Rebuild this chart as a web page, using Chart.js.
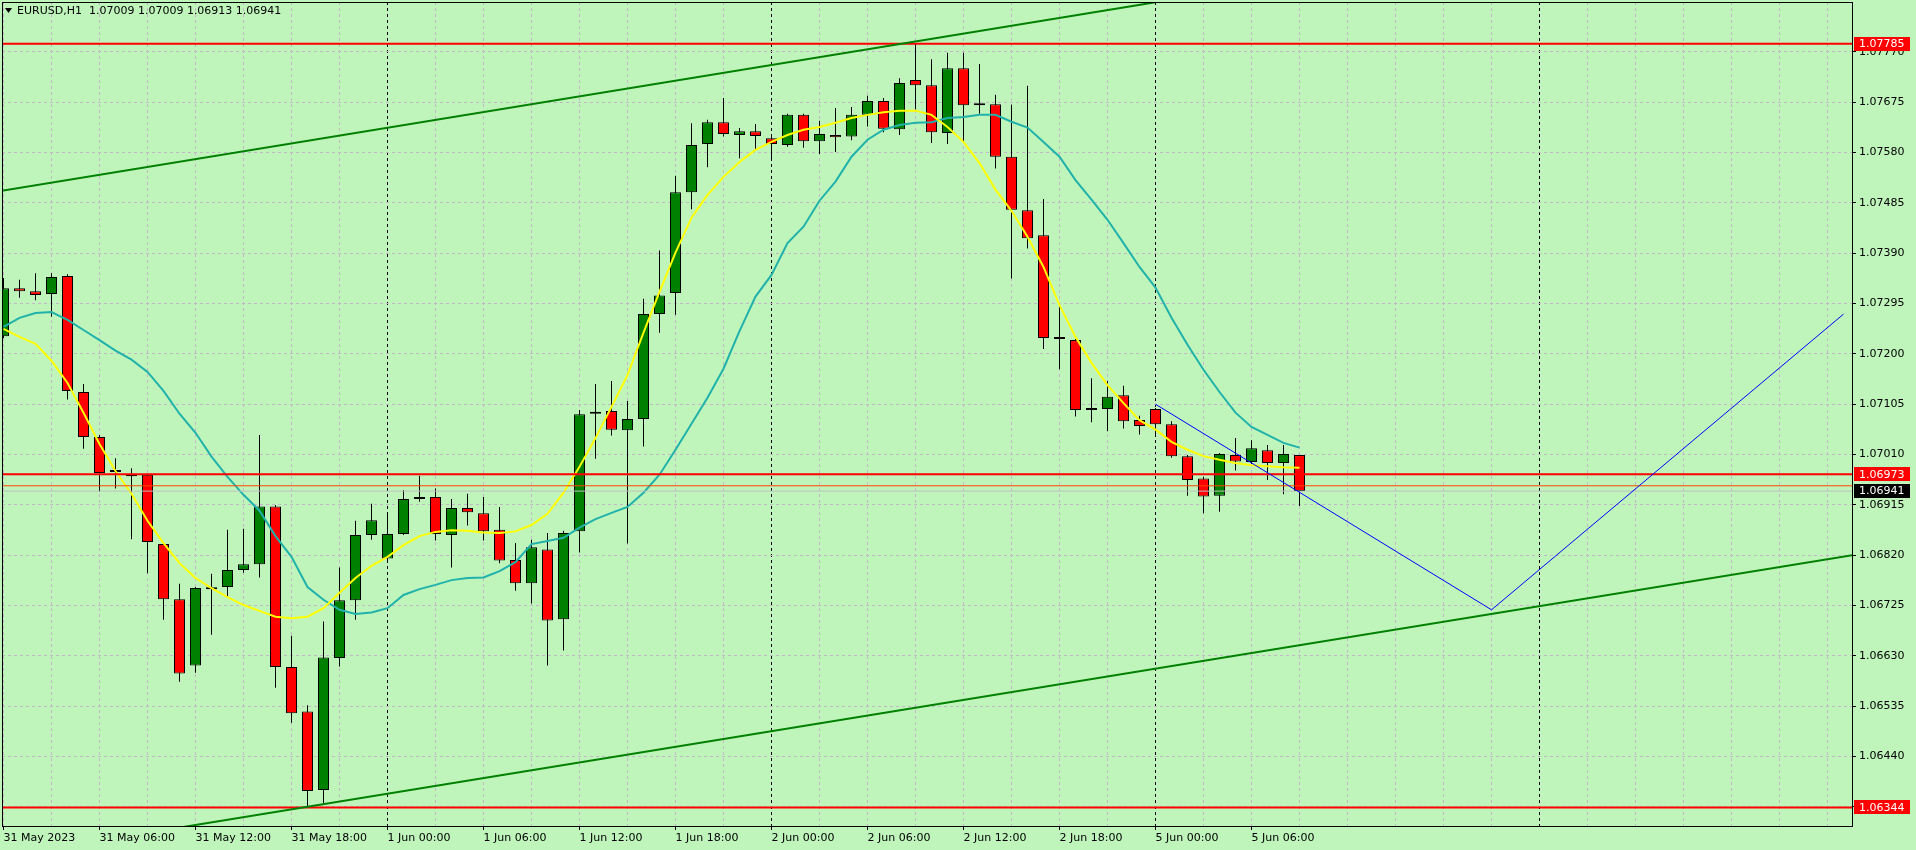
<!DOCTYPE html>
<html><head><meta charset="utf-8">
<script src="https://cdn.jsdelivr.net/npm/chart.js@4.4.0/dist/chart.umd.min.js"></script>
<style>html,body{margin:0;padding:0;background:#bff5bb;overflow:hidden}canvas{display:block}</style>
</head><body><canvas id="c" width="1916" height="850"></canvas>
<script>
const symbolTitle = 'EURUSD,H1  1.07009 1.07009 1.06913 1.06941';
const timeLabels = ['31 May 2023','31 May 06:00','31 May 12:00','31 May 18:00','1 Jun 00:00','1 Jun 06:00','1 Jun 12:00','1 Jun 18:00','2 Jun 00:00','2 Jun 06:00','2 Jun 12:00','2 Jun 18:00','5 Jun 00:00','5 Jun 06:00'];
const timeLabelIdx = [0,6,12,18,24,30,36,42,48,54,60,66,72,78];
const daySeparators = [24,48,72,96];

const opens = [1.07233,1.07324,1.07318,1.07313,1.07347,1.07128,1.07043,1.06977,1.06972,1.06972,
 1.06841,1.06737,1.06612,1.06756,1.06760,1.06792,1.06803,1.06912,1.06609,1.06525,
 1.06377,1.06626,1.06735,1.06858,1.06814,1.06860,1.06926,1.06930,1.06858,1.06909,
 1.06899,1.06868,1.06811,1.06767,1.06831,1.06699,1.06865,1.07087,1.07092,1.07056,
 1.07077,1.07275,1.07315,1.07505,1.07596,1.07637,1.07613,1.07620,1.07607,1.07594,
 1.07651,1.07601,1.07613,1.07610,1.07651,1.07677,1.07624,1.07717,1.07707,1.07617,
 1.07739,1.07669,1.07671,1.07572,1.07471,1.07424,1.07232,1.07226,1.07097,1.07096,
 1.07122,1.07075,1.07096,1.07067,1.07007,1.06965,1.06932,1.07009,1.06996,1.07018,
 1.06994,1.07009];
const highs = [1.07343,1.07340,1.07352,1.07352,1.07350,1.07143,1.07047,1.07003,1.06984,1.06973,
 1.06842,1.06766,1.06760,1.06785,1.06868,1.06870,1.07047,1.06915,1.06668,1.06537,
 1.06695,1.06797,1.06885,1.06917,1.06901,1.06943,1.06970,1.06946,1.06926,1.06936,
 1.06930,1.06911,1.06843,1.06849,1.06862,1.06866,1.07094,1.07143,1.07149,1.07111,
 1.07304,1.07395,1.07536,1.07635,1.07642,1.07683,1.07626,1.07634,1.07610,1.07653,
 1.07653,1.07640,1.07664,1.07666,1.07687,1.07683,1.07720,1.07785,1.07756,1.07768,
 1.07768,1.07747,1.07689,1.07670,1.07706,1.07492,1.07292,1.07228,1.07154,1.07149,
 1.07140,1.07083,1.07098,1.07073,1.07009,1.06968,1.07013,1.07041,1.07037,1.07028,
 1.07028,1.07009];
const lows = [1.07230,1.07306,1.07301,1.07270,1.07114,1.07021,1.06940,1.06946,1.06850,1.06786,
 1.06698,1.06581,1.06598,1.06670,1.06742,1.06787,1.06778,1.06570,1.06504,1.06344,
 1.06352,1.06610,1.06698,1.06849,1.06811,1.06858,1.06921,1.06848,1.06797,1.06876,
 1.06848,1.06805,1.06753,1.06729,1.06612,1.06640,1.06825,1.07002,1.07046,1.06842,
 1.07025,1.07240,1.07274,1.07473,1.07552,1.07610,1.07569,1.07585,1.07565,1.07591,
 1.07589,1.07577,1.07581,1.07603,1.07629,1.07618,1.07613,1.07661,1.07598,1.07596,
 1.07599,1.07653,1.07550,1.07342,1.07399,1.07209,1.07171,1.07082,1.07071,1.07054,
 1.07059,1.07048,1.07044,1.07004,1.06932,1.06899,1.06902,1.06980,1.06992,1.06962,
 1.06935,1.06913];
const closes = [1.07324,1.07318,1.07311,1.07345,1.07130,1.07043,1.06975,1.06977,1.06969,1.06845,
 1.06737,1.06597,1.06758,1.06756,1.06792,1.06803,1.06912,1.06609,1.06522,1.06375,
 1.06627,1.06735,1.06858,1.06886,1.06860,1.06926,1.06930,1.06860,1.06909,1.06901,
 1.06865,1.06810,1.06767,1.06835,1.06697,1.06862,1.07086,1.07087,1.07057,1.07077,
 1.07275,1.07310,1.07505,1.07594,1.07637,1.07615,1.07620,1.07611,1.07596,1.07651,
 1.07601,1.07615,1.07609,1.07651,1.07677,1.07625,1.07711,1.07707,1.07618,1.07739,
 1.07669,1.07669,1.07572,1.07472,1.07418,1.07230,1.07228,1.07094,1.07094,1.07119,
 1.07073,1.07064,1.07067,1.07007,1.06962,1.06931,1.07011,1.06997,1.07022,1.06994,
 1.07011,1.06941];
const maFast = [1.07247,1.07232,1.07219,1.07187,1.07145,1.07089,1.07030,1.06979,1.06936,1.06885,
 1.06843,1.06805,1.06777,1.06758,1.06741,1.06726,1.06715,1.06704,1.06701,1.06704,
 1.06720,1.06749,1.06777,1.06800,1.06817,1.06839,1.06856,1.06864,1.06867,1.06866,
 1.06863,1.06862,1.06865,1.06877,1.06898,1.06938,1.06987,1.07041,1.07100,1.07160,
 1.07240,1.07317,1.07391,1.07457,1.07500,1.07534,1.07562,1.07585,1.07600,1.07613,
 1.07623,1.07628,1.07636,1.07645,1.07651,1.07656,1.07659,1.07659,1.07651,1.07628,
 1.07600,1.07560,1.07510,1.07470,1.07421,1.07364,1.07292,1.07232,1.07183,1.07141,
 1.07107,1.07075,1.07057,1.07034,1.07019,1.07007,1.07000,1.06994,1.06990,1.06988,
 1.06986,1.06985];
const maSlow = [1.07251,1.07268,1.07277,1.07279,1.07264,1.07245,1.07226,1.07206,1.07189,1.07166,
 1.07130,1.07087,1.07051,1.07006,1.06968,1.06934,1.06904,1.06856,1.06817,1.06760,
 1.06736,1.06717,1.06709,1.06712,1.06720,1.06745,1.06756,1.06764,1.06773,1.06777,
 1.06778,1.06790,1.06807,1.06841,1.06847,1.06853,1.06872,1.06888,1.06900,1.06911,
 1.06938,1.06972,1.07019,1.07068,1.07117,1.07172,1.07243,1.07308,1.07349,1.07409,
 1.07440,1.07489,1.07525,1.07572,1.07604,1.07623,1.07632,1.07636,1.07637,1.07645,
 1.07647,1.07651,1.07651,1.07638,1.07627,1.07600,1.07572,1.07528,1.07491,1.07453,
 1.07409,1.07364,1.07325,1.07268,1.07217,1.07170,1.07128,1.07089,1.07062,1.07047,
 1.07032,1.07023];
const yTicks = [1.07770,1.07675,1.07580,1.07485,1.07390,1.07295,1.07200,1.07105,1.07010,1.06915,1.06820,1.06725,1.06630,1.06535,1.06440,1.06345];
const redLevels = [1.07785, 1.06973, 1.06344];
const orangeLevel = 1.06951;
const bidPrice = 1.06941;
const channelUpper = [[-0.22, 1.07507], [72.5, 1.07866]];
const channelLower = [[11, 1.06306], [115.54, 1.06820]];
const projection = [[72, 1.07105], [93, 1.06717], [115, 1.07275]];

const X_MIN = -0.09375, X_MAX = 115.53125, Y_MIN = 1.06309, Y_MAX = 1.07864;
const GRID = '#c4b8c6';
const FONT = {family: 'DejaVu Sans', size: 11};
Chart.defaults.font.family = FONT.family;
Chart.defaults.font.size = FONT.size;
Chart.defaults.color = '#000';

const idx = opens.map((_, i) => i);
const gridIdx = [];
for (let v = 0; v <= X_MAX; v += 3) gridIdx.push(v);

function lineDs(points, color, width, order) {
  return {type: 'line', data: points.map(p => ({x: p[0], y: p[1]})), borderColor: color, borderWidth: width,
    pointRadius: 0, tension: 0, fill: false, order: order, clip: 0};
}
const hLine = (v, color, width, order) => lineDs([[X_MIN - 1, v], [X_MAX + 1, v]], color, width, order);

const datasets = [
  {type: 'bar', data: idx.map(i => ({x: i, y: [lows[i], highs[i]]})), backgroundColor: '#000000', borderWidth: 0,
   barThickness: 1, grouped: false, inflateAmount: 0, order: 30, clip: 0},
  {type: 'bar', data: idx.map(i => ({x: i, y: [opens[i], closes[i]]})),
   backgroundColor: idx.map(i => closes[i] >= opens[i] ? '#008000' : '#ff0000'),
   borderColor: '#000000', borderWidth: 1, borderSkipped: false, barThickness: 11, minBarLength: 2,
   grouped: false, inflateAmount: 0, order: 29, clip: 0},
  lineDs(idx.map(i => [i, maSlow[i]]), '#20b2aa', 2, 12),
  lineDs(idx.map(i => [i, maFast[i]]), '#ffff00', 2, 11),
  hLine(bidPrice, '#c0c0c0', 1, 9),
  hLine(orangeLevel, '#ff4500', 1, 8),
  ...redLevels.map(v => hLine(v, '#ff0000', 2, 7)),
  lineDs(channelUpper, '#008000', 2, 6),
  lineDs(channelLower, '#008000', 2, 6),
  lineDs(projection, '#0000ff', 1, 5)
];

const overlay = {
  id: 'overlay',
  afterDatasetsDraw(chart) {
    const {ctx, chartArea: a} = chart;
    ctx.save();
    ctx.strokeStyle = '#000'; ctx.lineWidth = 1;
    ctx.strokeRect(a.left + 0.5, a.top + 0.5, a.right - a.left, a.bottom - a.top);
    ctx.restore();
  },
  afterDraw(chart) {
    const {ctx, chartArea: a, scales: {y}} = chart;
    ctx.save();
    ctx.font = '11px "DejaVu Sans"';
    ctx.textBaseline = 'middle'; ctx.textAlign = 'left';
    const box = (v, bg, fg) => {
      const py = y.getPixelForValue(v);
      ctx.fillStyle = bg; ctx.fillRect(a.right + 2, Math.round(py) - 7, 56, 14);
      ctx.fillStyle = fg; ctx.fillText(v.toFixed(5), a.right + 7, py + 0.5);
    };
    box(redLevels[0], '#ff0000', '#ffffff');
    box(redLevels[1], '#ff0000', '#ffffff');
    box(bidPrice, '#000000', '#ffffff');
    box(redLevels[2], '#ff0000', '#ffffff');
    // title
    ctx.fillStyle = '#000';
    ctx.beginPath(); ctx.moveTo(5, 8); ctx.lineTo(12, 8); ctx.lineTo(8.5, 13); ctx.closePath(); ctx.fill();
    ctx.fillText(symbolTitle, 17, 11);
    ctx.restore();
  }
};

new Chart(document.getElementById('c'), {
  type: 'bar',
  data: {datasets},
  options: {
    responsive: false, animation: false, devicePixelRatio: 1, events: [],
    layout: {padding: {left: 2, top: 2, right: 0, bottom: 0}, autoPadding: false},
    plugins: {legend: {display: false}, tooltip: {enabled: false}, title: {display: false}},
    scales: {
      x: {
        type: 'linear', min: X_MIN, max: X_MAX, offset: false, bounds: 'data',
        grid: {offset: false, lineWidth: 1, drawTicks: true, tickLength: 4, tickBorderDash: [],
          color: c => (c.tick && daySeparators.includes(c.tick.value)) ? '#000000' : GRID,
          tickColor: c => (c.tick && timeLabelIdx.includes(c.tick.value)) ? '#000000' : 'rgba(0,0,0,0)'},
        border: {display: false, dash: [3, 3]},
        afterBuildTicks: s => { s.ticks = gridIdx.map(v => ({value: v})); },
        ticks: {autoSkip: false, maxRotation: 0, minRotation: 0, align: 'start', padding: 2, color: '#000', font: FONT,
          callback: v => { const k = timeLabelIdx.indexOf(v); return k >= 0 ? timeLabels[k] : ''; }},
        afterFit: s => { s.height = 24; s.paddingLeft = 0; s.paddingRight = 0; }
      },
      y: {
        type: 'linear', position: 'right', min: Y_MIN, max: Y_MAX, bounds: 'data',
        grid: {color: GRID, lineWidth: 1, drawTicks: true, tickLength: 4, tickColor: '#000', tickBorderDash: []},
        border: {display: false, dash: [3, 3]},
        afterBuildTicks: s => { s.ticks = yTicks.map(v => ({value: v})); },
        ticks: {autoSkip: false, padding: 3, color: '#000', font: FONT, callback: v => v.toFixed(5)},
        afterFit: s => { s.width = 64; s.paddingTop = 0; s.paddingBottom = 0; }
      }
    }
  },
  plugins: [overlay]
});
</script>
</body></html>
